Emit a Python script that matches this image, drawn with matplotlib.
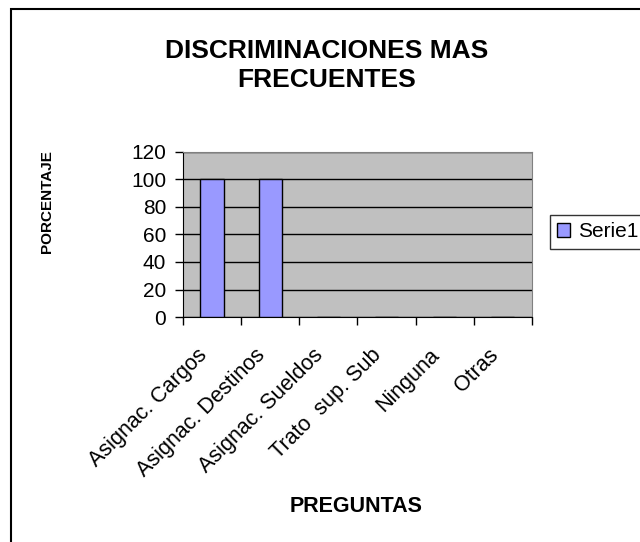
import numpy as np
import matplotlib.pyplot as plt
import matplotlib.transforms as mtrans
from matplotlib.patches import Rectangle

plt.rcParams['font.family'] = ['Liberation Sans', 'DejaVu Sans']

preguntas = ['Asignac. Cargos', 'Asignac. Destinos', 'Asignac. Sueldos',
             'Trato  sup. Sub', 'Ninguna', 'Otras']
serie1 = [100, 100, 0, 0, 0, 0]
yticks = [0, 20, 40, 60, 80, 100, 120]

fig = plt.figure(figsize=(6.4, 5.42), dpi=100)
ax = fig.add_axes([0.286, 0.415, 0.545, 0.305])
ax.set_facecolor('#C0C0C0')

x = np.arange(len(preguntas))
ax.bar(x, serie1, width=0.4, color='#9999FF', edgecolor='black',
       linewidth=1, label='Serie1', zorder=3)

ax.set_xlim(-0.5, len(preguntas) - 0.5)
ax.set_ylim(0, 120)
ax.set_yticks(yticks)
ax.yaxis.grid(True, color='black', linewidth=1, zorder=1)
ax.set_axisbelow(True)

# ticks between categories, labels at centers
ax.set_xticks(np.arange(len(preguntas) + 1) - 0.5)
ax.set_xticklabels([])
ax.set_xticks(x, minor=True)
ax.set_xticklabels(preguntas, minor=True, rotation=45, ha='right',
                   va='center', rotation_mode='anchor', fontsize=15.5)
ax.tick_params(axis='x', which='minor', length=0, pad=25)
ax.tick_params(axis='x', which='major', length=6, width=1)
ax.tick_params(axis='y', length=6, width=1, labelsize=15, pad=6)
shift = mtrans.ScaledTranslation(-8 / 100, 0, fig.dpi_scale_trans)
for lbl in ax.get_xticklabels(minor=True):
    lbl.set_transform(lbl.get_transform() + shift)

for s in ['top', 'right']:
    ax.spines[s].set_color('#808080')
for s in ['left', 'bottom']:
    ax.spines[s].set_color('black')

fig.text(47 / 640, 1 - 202 / 542, 'PORCENTAJE', rotation=90, fontsize=11,
         fontweight='bold', ha='center', va='center')
fig.text(356 / 640, 1 - 507 / 542, 'PREGUNTAS', fontsize=15.5,
         fontweight='bold', ha='center', va='center')

fig.text(327 / 640, 0.879, 'DISCRIMINACIONES MAS\nFRECUENTES', fontsize=19,
         fontweight='bold', ha='center', va='center', linespacing=1.3)

leg = fig.legend(loc='upper left', bbox_to_anchor=(550 / 640, 1 - 215 / 542),
                 bbox_transform=fig.transFigure,
                 frameon=True, fancybox=False, fontsize=15,
                 handlelength=0.6, handleheight=0.6, handletextpad=0.4,
                 borderpad=0.35, borderaxespad=0)
leg.get_frame().set_edgecolor('black')
leg.get_frame().set_linewidth(1)

fig.patches.append(Rectangle((11 / 640, -0.1), 1.2, 1 - 9 / 542 + 0.1,
                             transform=fig.transFigure, fill=False,
                             edgecolor='black', linewidth=1.5))

fig.savefig('out.png', dpi=100)
